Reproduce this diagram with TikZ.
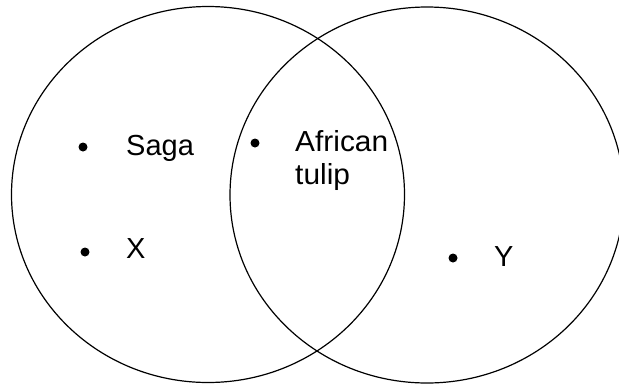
\documentclass[tikz,border=0pt]{standalone}
\usepackage{fontspec}
\setmainfont{Liberation Sans}
\begin{document}
\begin{tikzpicture}[x=1pt,y=-1pt,
  setring/.style={draw=black,line width=1.2pt},
  dotmark/.style={circle,fill=black,inner sep=0pt,minimum size=9pt},
  lbl/.style={anchor=base west,inner sep=0pt,font=\fontsize{29}{34}\selectfont}]
\useasboundingbox[fill=white] (0,0) rectangle (619,384);
\draw[setring] (208,194.5) ellipse [x radius=196.5, y radius=188];
\draw[setring] (427,195) ellipse [x radius=197, y radius=188];
\node[dotmark] (dsaga) at (83,147) {};
\node[lbl] (saga) at (126,155) {Saga};
\node[dotmark] (dx) at (85,252) {};
\node[lbl] (xl) at (126,258) {X};
\node[dotmark] (dafr) at (255,143) {};
\node[lbl,xscale=1.03] (afr) at (295,151) {African};
\node[lbl,xscale=1.03] (tul) at (295,184) {tulip};
\node[dotmark] (dy) at (453,258) {};
\node[lbl] (yl) at (494,266) {Y};
\end{tikzpicture}
\end{document}
